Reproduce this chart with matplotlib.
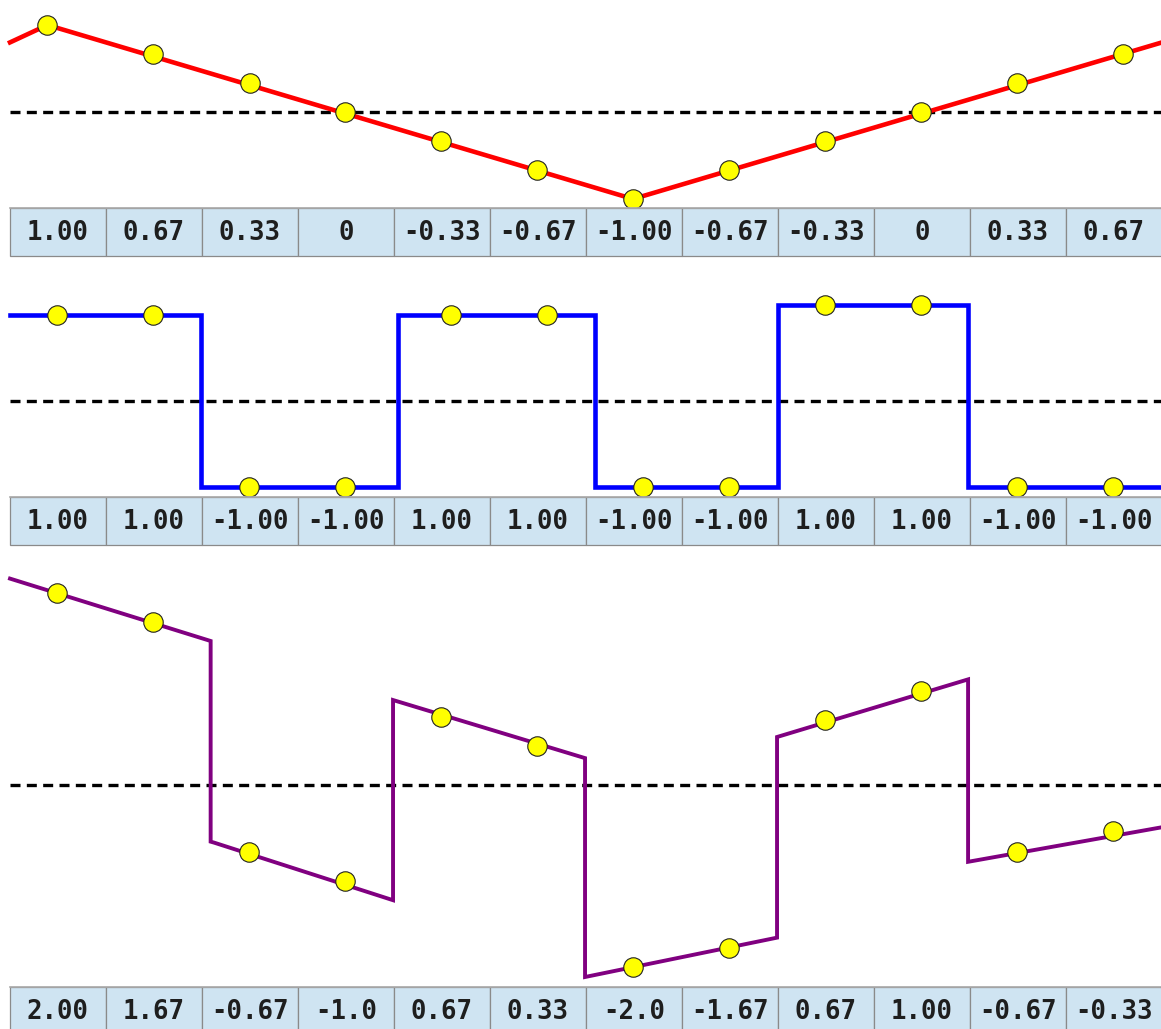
import matplotlib
matplotlib.use("Agg")
import matplotlib.pyplot as plt
from matplotlib.patches import Rectangle

# ---------------- data ----------------
n_cells = 12

# Panel 1: triangle wave
tri_labels = ["1.00", "0.67", "0.33", "0", "-0.33", "-0.67", "-1.00",
              "-0.67", "-0.33", "0", "0.33", "0.67"]
tri_marker_t = [0.39, 1.49, 2.50, 3.49, 4.49, 5.49, 6.49, 7.49, 8.49, 9.49, 10.49, 11.59]
tri_marker_v = [1.00, 0.67, 0.33, 0.0, -0.33, -0.67, -1.00, -0.67, -0.33, 0.0, 0.33, 0.67]
tri_line_t = [0.0, 0.39, 6.49, 12.0]
tri_line_v = [0.80, 1.00, -1.00, 0.80]

# Panel 2: square wave
sq_labels = ["1.00", "1.00", "-1.00", "-1.00", "1.00", "1.00", "-1.00",
             "-1.00", "1.00", "1.00", "-1.00", "-1.00"]
sq_marker_t = [0.49, 1.49, 2.49, 3.49, 4.59, 5.59, 6.59, 7.49, 8.49, 9.49, 10.49, 11.49]
sq_marker_v = [1.0, 1.0, -1.0, -1.0, 1.0, 1.0, -1.0, -1.0, 1.12, 1.12, -1.0, -1.0]
sq_line_t = [0.0, 1.99, 1.99, 4.04, 4.04, 6.09, 6.09, 8.00, 8.00, 9.98, 9.98, 12.0]
sq_line_v = [1.0, 1.0, -1.0, -1.0, 1.0, 1.0, -1.0, -1.0, 1.12, 1.12, -1.0, -1.0]

# Panel 3: sum
sum_labels = ["2.00", "1.67", "-0.67", "-1.0", "0.67", "0.33", "-2.0",
              "-1.67", "0.67", "1.00", "-0.67", "-0.33"]
sum_marker_t = [0.49, 1.49, 2.49, 3.49, 4.49, 5.49, 6.49, 7.49, 8.49, 9.49, 10.49, 11.49]
sum_marker_v = [2.00, 1.70, -0.70, -1.00, 0.71, 0.41, -1.90, -1.70, 0.68, 0.98, -0.70, -0.48]
sum_line_t = [0.0, 2.09, 2.09, 2.125, 3.99, 3.99, 5.99, 5.99, 7.99, 7.99, 9.98, 9.98, 12.0]
sum_line_v = [2.15, 1.50, -0.59, -0.60, -1.20, 0.885, 0.28, -2.00, -1.59, 0.50, 1.10, -0.80, -0.44]

# ---------------- layout ----------------
W, H = 1161, 1029
fig = plt.figure(figsize=(W / 100, H / 100), dpi=100)
fig.patch.set_facecolor("white")

x_left_px = 10
cell_px = 96


def add_axes_px(y_top, y_bot):
    left = x_left_px / W
    width = n_cells * cell_px / W
    bottom = 1 - y_bot / H
    height = (y_bot - y_top) / H
    ax = fig.add_axes([left, bottom, width, height])
    ax.set_axis_off()
    ax.set_xlim(0, n_cells)
    return ax


def panel(y_top, y_bot, zero_px, px_per_unit, line_t, line_v, color, lw,
          mk_t, mk_v):
    ax = add_axes_px(y_top, y_bot)
    ax.set_ylim((zero_px - y_bot) / px_per_unit, (zero_px - y_top) / px_per_unit)
    ax.axhline(0, color="black", lw=2.4, dashes=(3, 1.9), zorder=1)
    ax.plot(line_t, line_v, color=color, lw=lw, solid_joinstyle="miter",
            zorder=2, clip_on=False)
    ax.plot(mk_t, mk_v, "o", ms=14, mfc="#ffff00", mec="#222222", mew=0.8,
            zorder=3, clip_on=False)
    return ax


def table_row(y_top, labels):
    ax = add_axes_px(y_top, y_top + 48)
    ax.set_ylim(0, 1)
    for i, lab in enumerate(labels):
        ax.add_patch(Rectangle((i, 0), 1, 1, facecolor="#cfe4f2",
                               edgecolor="#8a8a8a", lw=0.9, clip_on=False))
        ax.text(i + 0.5, 0.47, lab, ha="center", va="center",
                fontsize=18.5, fontweight="bold", family="DejaVu Sans Mono",
                color="#1e1e1e")
    ax.plot([0, n_cells], [1, 1], color="#aaaaaa", lw=1.2, clip_on=False)
    return ax


panel(0, 208, 112, 87, tri_line_t, tri_line_v, "#ff0000", 3.3,
      tri_marker_t, tri_marker_v)
table_row(208, tri_labels)

panel(257, 497, 401, 86, sq_line_t, sq_line_v, "#0000ff", 3.3,
      sq_marker_t, sq_marker_v)
table_row(497, sq_labels)

panel(546, 987, 785, 96, sum_line_t, sum_line_v, "#800080", 2.8,
      sum_marker_t, sum_marker_v)
table_row(987, sum_labels)

fig.savefig("out.png", dpi=100, facecolor="white")
